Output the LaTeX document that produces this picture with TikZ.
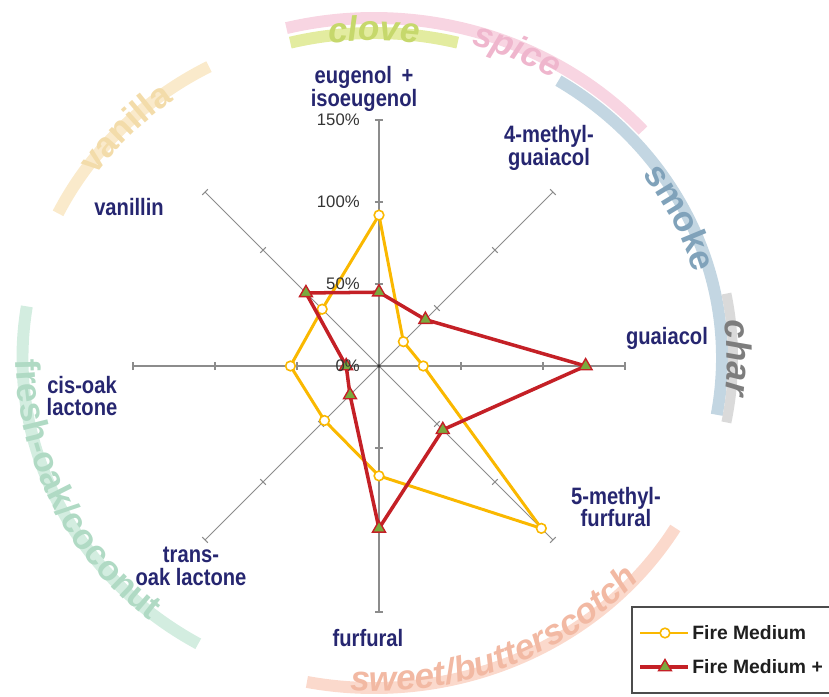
\documentclass[tikz,border=0pt]{standalone}
\usepackage{fontspec}
\setmainfont{Liberation Sans}
\newfontfamily\lblfont{Liberation Sans}[FakeStretch=0.85]
\usetikzlibrary{shapes.geometric, decorations.text}

\definecolor{navy1}{RGB}{38, 38, 112}
\definecolor{fireyellow}{RGB}{250, 184, 0}
\definecolor{firered}{RGB}{196, 32, 38}
\definecolor{markgreen}{RGB}{122, 170, 62}
\definecolor{axisgray}{RGB}{140, 140, 140}
\definecolor{clovebg}{RGB}{227, 236, 160}
\definecolor{clovetx}{RGB}{198, 216, 108}
\definecolor{spicebg}{RGB}{248, 213, 226}
\definecolor{spicetx}{RGB}{239, 182, 205}
\definecolor{smokebg}{RGB}{195, 214, 226}
\definecolor{smoketx}{RGB}{128, 162, 186}
\definecolor{charbg}{RGB}{218, 218, 218}
\definecolor{chartx}{RGB}{125, 125, 125}
\definecolor{vanillabg}{RGB}{250, 234, 203}
\definecolor{vanillatx}{RGB}{243, 220, 170}
\definecolor{oakbg}{RGB}{211, 237, 224}
\definecolor{oaktx}{RGB}{176, 218, 196}
\definecolor{sweetbg}{RGB}{251, 217, 204}
\definecolor{sweettx}{RGB}{242, 185, 163}

\newcommand\arcup{\bfseries\fontsize{20}{20}\selectfont}
\newcommand\arcit{\bfseries\itshape\fontsize{20}{20}\selectfont}

\begin{document}
\begin{tikzpicture}[x=0.02cm, y=0.02cm,
  band/.style={line width=6.8pt},
  axisline/.style={draw=axisgray, line width=0.6pt},
  pct/.style={font=\fontsize{9.5}{10}\selectfont, text=black!80, anchor=east, inner sep=0pt},
  compound/.style={font=\lblfont\bfseries\fontsize{13.5}{13}\selectfont, text=navy1,
                   align=center, inner sep=1pt},
  fmline/.style={fireyellow, line width=1.7pt, line join=round},
  fmpline/.style={firered, line width=2pt, line join=round},
  fmmark/.style={circle, draw=fireyellow, fill=white, line width=0.9pt,
                 minimum size=5.5pt, inner sep=0pt},
  fmpmark/.style={regular polygon, regular polygon sides=3, draw=firered, fill=markgreen,
                  line width=0.8pt, minimum size=8.5pt, inner sep=0pt},
]
\useasboundingbox (-379,-331) rectangle (450,366);

% flavour ring
\begin{scope}[shift={(-5,8)}]
\draw[band, vanillabg] (154:351.5 and 330) arc[start angle=154, end angle=118, x radius=351.5, y radius=330];
\draw[band, clovebg] (104:346 and 325) arc[start angle=104, end angle=76, x radius=346, y radius=325];
\draw[band, spicebg] (104:362 and 340) arc[start angle=104, end angle=42, x radius=362, y radius=340];
\draw[band, smokebg] (58:348 and 327) arc[start angle=58, end angle=-10, x radius=348, y radius=327];
\draw[band, charbg, line width=5.7pt] (11:359 and 337.5) arc[start angle=11, end angle=-11, x radius=359, y radius=337.5];
\draw[band, oakbg] (171:351.5 and 330) arc[start angle=171, end angle=240, x radius=351.5, y radius=330];
\draw[band, sweetbg] (259:351.5 and 330) arc[start angle=259, end angle=329, x radius=351.5, y radius=330];

\path[decorate, decoration={text along path, text align=center, text={|\arcup\color{vanillatx}|vanilla}}]
  (166:339.3 and 318.8) arc[start angle=166, end angle=106, x radius=339.3, y radius=318.8];
\path[decorate, decoration={text along path, text align=center, text={|\arcit\color{clovetx}|clove}}]
  (120:337.6 and 317.2) arc[start angle=120, end angle=60, x radius=337.6, y radius=317.2];
\path[decorate, decoration={text along path, text align=center, text={|\arcit\color{spicetx}|spice}}]
  (96:347.3 and 326.3) arc[start angle=96, end angle=36, x radius=347.3, y radius=326.3];
\path[decorate, decoration={text along path, text align=center, text={|\arcup\color{smoketx}|smoke}}]
  (55.6:332.3 and 312.3) arc[start angle=55.6, end angle=-4.4, x radius=332.3, y radius=312.3];
\path[decorate, decoration={text along path, text align=center, text={|\arcit\color{chartx}|char}}]
  (30:352.9 and 331.6) arc[start angle=30, end angle=-30, x radius=352.9, y radius=331.6];
\path[decorate, decoration={text along path, text align=center, text={|\arcup\color{oaktx}|fresh-oak/coconut}}]
  (145:358 and 337) arc[start angle=145, end angle=265, x radius=358, y radius=337];
\path[decorate, decoration={text along path, text align=center, text={|\arcit\color{sweettx}|sweet/butterscotch}}]
  (233:355 and 333.5) arc[start angle=233, end angle=353, x radius=355, y radius=333.5];
\end{scope}

% axes, 50% steps
\foreach \a in {0,45,...,315} {
  \draw[axisline] (0,0) -- (\a:246);
  \foreach \r in {82,164,246}
    \draw[axisline] (\a:\r) ++(\a+90:4) -- ++(\a-90:8);
}
\fill[black!80] (0,0) circle (1.1pt);

% Fire Medium
\foreach \ang/\v [count=\i] in {90/92, 45/21, 0/27, -45/140, -90/67, -135/47, 180/54, 135/49}
  \coordinate (fm\i) at (\ang:{\v*1.64});
\draw[fmline] (fm1) -- (fm2) -- (fm3) -- (fm4) -- (fm5) -- (fm6) -- (fm7) -- (fm8) -- cycle;
\foreach \i in {1,...,8} \node[fmmark] (fmdot\i) at (fm\i) {};

% Fire Medium +
\foreach \ang/\v [count=\i] in {90/45, 45/40, 0/126, -45/55, -90/99, -135/25, 180/20, 135/63}
  \coordinate (fmp\i) at (\ang:{\v*1.64});
\draw[fmpline] (fmp1) -- (fmp2) -- (fmp3) -- (fmp4) -- (fmp5) -- (fmp6) -- (fmp7) -- (fmp8) -- cycle;
\foreach \i in {1,...,8} \node[fmpmark] (fmptri\i) at (fmp\i) {};

% scale
\node[pct] (p150) at (-19,246) {150\%};
\node[pct] (p100) at (-19,164) {100\%};
\node[pct] (p50) at (-19,82) {50\%};
\node[pct] (p0) at (-19,0) {0\%};

% compounds
\node[compound] (eugenol) at (-15,277) {eugenol \,+\\isoeugenol};
\node[compound] (methylguaiacol) at (170,218) {4-methyl-\\guaiacol};
\node[compound] (guaiacol) at (288,28) {guaiacol};
\node[compound] (methylfurfural) at (237,-141) {5-methyl-\\furfural};
\node[compound] (furfural) at (-11,-272) {furfural};
\node[compound] (transoak) at (-188,-200) {trans-\\oak lactone};
\node[compound] (cisoak) at (-297,-30) {cis-oak\\lactone};
\node[compound] (vanillin) at (-250,159) {vanillin};

% legend
\draw[black!70, line width=1.2pt, fill=white] (253,-241) rectangle (475,-327);
\draw[fmline] (261,-267) -- (309,-267);
\node[fmmark] (legdot) at (286,-267) {};
\node[anchor=west, inner sep=0pt, font=\bfseries\fontsize{11}{12}\selectfont, text=black!88]
  (legfm) at (313,-267) {Fire Medium};
\draw[fmpline] (261,-301) -- (309,-301);
\node[fmpmark] (legtri) at (286,-301) {};
\node[anchor=west, inner sep=0pt, font=\bfseries\fontsize{11}{12}\selectfont, text=black!88]
  (legfmp) at (313,-301) {Fire Medium +};
\end{tikzpicture}
\end{document}
